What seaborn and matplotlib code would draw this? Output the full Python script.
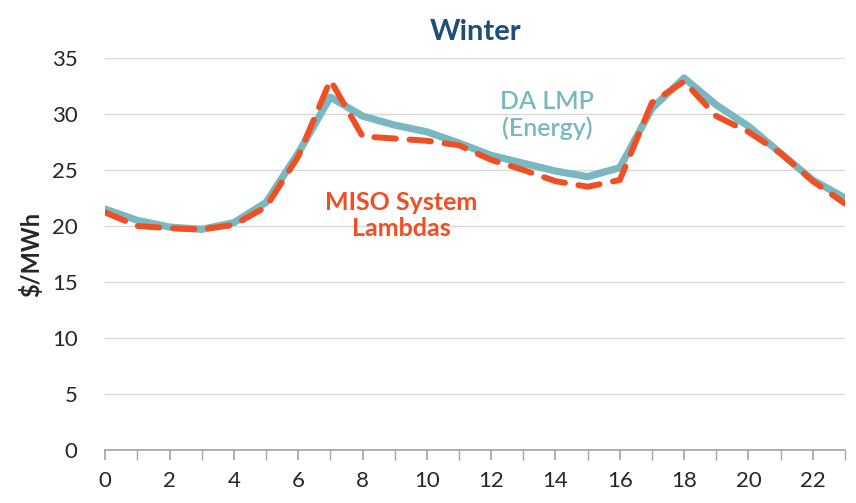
import numpy as np
import pandas as pd
import seaborn as sns
import matplotlib.pyplot as plt

# hourly values
hours = list(range(24))
da_lmp = [21.5, 20.5, 19.9, 19.7, 20.3, 22.1, 26.5, 31.5, 29.8, 29.0, 28.4, 27.4,
          26.3, 25.6, 24.9, 24.4, 25.2, 30.5, 33.2, 30.8, 28.9, 26.5, 24.1, 22.5]
miso_lambda = [21.2, 20.0, 19.8, 19.7, 20.1, 21.7, 26.2, 33.0, 28.0, 27.8, 27.6, 27.2,
               25.9, 25.0, 24.0, 23.5, 24.1, 31.0, 32.9, 29.8, 28.4, 26.5, 24.0, 22.0]

df = pd.DataFrame({'hour': hours, 'da': da_lmp, 'miso': miso_lambda})

sns.set_theme(style='white')
plt.rcParams['font.family'] = ['Lato', 'DejaVu Sans']

teal = '#79B8C1'
red = '#F04E23'

fig, ax = plt.subplots(figsize=(8.56, 5.03), dpi=100)
fig.subplots_adjust(left=0.123, right=0.987, top=0.885, bottom=0.105)

sns.lineplot(data=df, x='hour', y='da', ax=ax, color=teal, linewidth=5.2)
sns.lineplot(data=df, x='hour', y='miso', ax=ax, color=red, linewidth=4.3)
ax.lines[-1].set_linestyle((0, (3.6, 2.3)))
ax.lines[-1].set_dash_capstyle('round')

ax.set_xlim(0, 23)
ax.set_ylim(0, 35)
ax.set_yticks(range(0, 36, 5))
ax.set_xticks(range(0, 24), minor=True)
ax.set_xticks(range(0, 23, 2))
ax.grid(axis='y', color='#D9D9D9', linewidth=1)
ax.set_axisbelow(True)

for s in ['top', 'right', 'left']:
    ax.spines[s].set_visible(False)
ax.spines['bottom'].set_color('#A6A6A6')
ax.tick_params(axis='x', which='both', direction='out', length=7, color='#A6A6A6',
               bottom=True, labelsize=16, pad=8)
ax.tick_params(axis='y', labelsize=16, left=False, pad=14)

ax.set_xlabel('')
ax.set_ylabel('$/MWh', fontsize=17, fontweight='bold', labelpad=6)
ax.set_title('Winter', fontsize=21, fontweight='bold', color='#1F4E79', pad=13)

ax.text(13.75, 29.9, 'DA LMP\n(Energy)', color=teal, fontsize=18,
        fontweight='semibold', ha='center', va='center', linespacing=1.15)
ax.text(9.2, 20.9, 'MISO System\nLambdas', color=red, fontsize=18,
        fontweight='bold', ha='center', va='center', linespacing=1.15)

plt.savefig('out.png', dpi=100)
